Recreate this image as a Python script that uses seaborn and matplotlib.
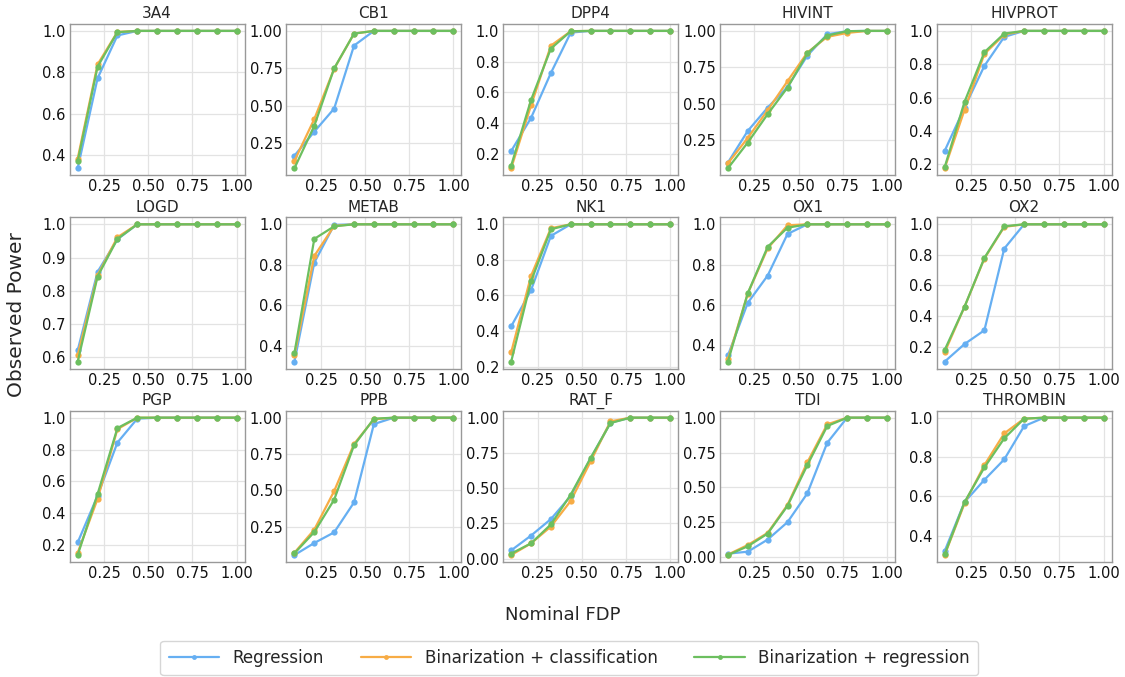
import numpy as np
import pandas as pd
import matplotlib
matplotlib.use("Agg")
import matplotlib.pyplot as plt
import seaborn as sns

# Nominal FDP levels shared by every target
fdp_levels = [0.1, 0.2125, 0.325, 0.4375, 0.55, 0.6625, 0.775, 0.8875, 1.0]

targets = ["3A4", "CB1", "DPP4", "HIVINT", "HIVPROT",
           "LOGD", "METAB", "NK1", "OX1", "OX2",
           "PGP", "PPB", "RAT_F", "TDI", "THROMBIN"]

methods = ["Regression", "Binarization + classification", "Binarization + regression"]

# Observed power per target: one list per method, one value per FDP level
power_regression = {
    "3A4":      [0.337, 0.771, 0.978, 1.0, 1.0, 1.0, 1.0, 1.0, 1.0],
    "CB1":      [0.168, 0.328, 0.482, 0.902, 1.0, 1.0, 1.0, 1.0, 1.0],
    "DPP4":     [0.217, 0.433, 0.726, 0.989, 1.0, 1.0, 1.0, 1.0, 1.0],
    "HIVINT":   [0.094, 0.312, 0.472, 0.615, 0.830, 0.977, 0.998, 1.0, 1.0],
    "HIVPROT":  [0.280, 0.540, 0.790, 0.964, 1.0, 1.0, 1.0, 1.0, 1.0],
    "LOGD":     [0.621, 0.857, 0.955, 1.0, 1.0, 1.0, 1.0, 1.0, 1.0],
    "METAB":    [0.323, 0.811, 0.997, 1.0, 1.0, 1.0, 1.0, 1.0, 1.0],
    "NK1":      [0.426, 0.630, 0.935, 1.0, 1.0, 1.0, 1.0, 1.0, 1.0],
    "OX1":      [0.349, 0.610, 0.745, 0.952, 1.0, 1.0, 1.0, 1.0, 1.0],
    "OX2":      [0.102, 0.217, 0.307, 0.841, 1.0, 1.0, 1.0, 1.0, 1.0],
    "PGP":      [0.217, 0.510, 0.844, 0.994, 1.0, 1.0, 1.0, 1.0, 1.0],
    "PPB":      [0.055, 0.138, 0.211, 0.417, 0.956, 1.0, 1.0, 1.0, 1.0],
    "RAT_F":    [0.059, 0.164, 0.281, 0.445, 0.710, 0.965, 1.0, 1.0, 1.0],
    "TDI":      [0.024, 0.038, 0.125, 0.250, 0.457, 0.820, 1.0, 1.0, 1.0],
    "THROMBIN": [0.322, 0.571, 0.684, 0.788, 0.957, 1.0, 1.0, 1.0, 1.0],
}

power_bin_classification = {
    "3A4":      [0.384, 0.838, 0.995, 1.0, 1.0, 1.0, 1.0, 1.0, 1.0],
    "CB1":      [0.133, 0.412, 0.748, 0.982, 1.0, 1.0, 1.0, 1.0, 1.0],
    "DPP4":     [0.105, 0.515, 0.904, 0.998, 1.0, 1.0, 1.0, 1.0, 1.0],
    "HIVINT":   [0.089, 0.264, 0.454, 0.654, 0.851, 0.959, 0.986, 1.0, 1.0],
    "HIVPROT":  [0.176, 0.526, 0.862, 0.978, 1.0, 1.0, 1.0, 1.0, 1.0],
    "LOGD":     [0.607, 0.847, 0.961, 1.0, 1.0, 1.0, 1.0, 1.0, 1.0],
    "METAB":    [0.354, 0.844, 0.992, 1.0, 1.0, 1.0, 1.0, 1.0, 1.0],
    "NK1":      [0.280, 0.710, 0.978, 1.0, 1.0, 1.0, 1.0, 1.0, 1.0],
    "OX1":      [0.331, 0.656, 0.880, 0.995, 1.0, 1.0, 1.0, 1.0, 1.0],
    "OX2":      [0.163, 0.460, 0.776, 0.983, 1.0, 1.0, 1.0, 1.0, 1.0],
    "PGP":      [0.152, 0.490, 0.928, 1.0, 1.0, 1.0, 1.0, 1.0, 1.0],
    "PPB":      [0.071, 0.230, 0.495, 0.819, 0.989, 1.0, 1.0, 1.0, 1.0],
    "RAT_F":    [0.026, 0.109, 0.228, 0.410, 0.690, 0.974, 1.0, 1.0, 1.0],
    "TDI":      [0.017, 0.086, 0.173, 0.374, 0.680, 0.952, 1.0, 1.0, 1.0],
    "THROMBIN": [0.302, 0.564, 0.759, 0.920, 0.995, 1.0, 1.0, 1.0, 1.0],
}

power_bin_regression = {
    "3A4":      [0.371, 0.827, 0.994, 1.0, 1.0, 1.0, 1.0, 1.0, 1.0],
    "CB1":      [0.084, 0.367, 0.750, 0.982, 1.0, 1.0, 1.0, 1.0, 1.0],
    "DPP4":     [0.122, 0.550, 0.885, 0.998, 1.0, 1.0, 1.0, 1.0, 1.0],
    "HIVINT":   [0.055, 0.232, 0.427, 0.610, 0.845, 0.968, 0.998, 1.0, 1.0],
    "HIVPROT":  [0.182, 0.574, 0.872, 0.984, 1.0, 1.0, 1.0, 1.0, 1.0],
    "LOGD":     [0.587, 0.843, 0.956, 1.0, 1.0, 1.0, 1.0, 1.0, 1.0],
    "METAB":    [0.366, 0.928, 0.990, 1.0, 1.0, 1.0, 1.0, 1.0, 1.0],
    "NK1":      [0.228, 0.680, 0.972, 1.0, 1.0, 1.0, 1.0, 1.0, 1.0],
    "OX1":      [0.318, 0.658, 0.888, 0.983, 1.0, 1.0, 1.0, 1.0, 1.0],
    "OX2":      [0.178, 0.461, 0.780, 0.987, 1.0, 1.0, 1.0, 1.0, 1.0],
    "PGP":      [0.138, 0.520, 0.935, 1.0, 1.0, 1.0, 1.0, 1.0, 1.0],
    "PPB":      [0.067, 0.213, 0.436, 0.810, 0.993, 1.0, 1.0, 1.0, 1.0],
    "RAT_F":    [0.036, 0.109, 0.243, 0.455, 0.715, 0.962, 1.0, 1.0, 1.0],
    "TDI":      [0.014, 0.077, 0.168, 0.367, 0.660, 0.940, 1.0, 1.0, 1.0],
    "THROMBIN": [0.305, 0.571, 0.747, 0.895, 0.995, 1.0, 1.0, 1.0, 1.0],
}

# Tick labels on each panel
x_ticks = [0.25, 0.5, 0.75, 1.0]
y_ticks = {
    "3A4":      [0.4, 0.6, 0.8, 1.0],
    "CB1":      [0.25, 0.5, 0.75, 1.0],
    "DPP4":     [0.2, 0.4, 0.6, 0.8, 1.0],
    "HIVINT":   [0.25, 0.5, 0.75, 1.0],
    "HIVPROT":  [0.2, 0.4, 0.6, 0.8, 1.0],
    "LOGD":     [0.6, 0.7, 0.8, 0.9, 1.0],
    "METAB":    [0.4, 0.6, 0.8, 1.0],
    "NK1":      [0.2, 0.4, 0.6, 0.8, 1.0],
    "OX1":      [0.4, 0.6, 0.8, 1.0],
    "OX2":      [0.2, 0.4, 0.6, 0.8, 1.0],
    "PGP":      [0.2, 0.4, 0.6, 0.8, 1.0],
    "PPB":      [0.25, 0.5, 0.75, 1.0],
    "RAT_F":    [0.0, 0.25, 0.5, 0.75, 1.0],
    "TDI":      [0.0, 0.25, 0.5, 0.75, 1.0],
    "THROMBIN": [0.4, 0.6, 0.8, 1.0],
}

method_colors = ["#66AFF2", "#F7AC45", "#6CBF5F"]

# Long-form table for seaborn
rows = []
for method, table in zip(methods, [power_regression, power_bin_classification, power_bin_regression]):
    for target in targets:
        for fdp, pw in zip(fdp_levels, table[target]):
            rows.append({"target": target, "method": method, "fdp": fdp, "power": pw})
df = pd.DataFrame(rows)

sns.set_theme(style="whitegrid")
plt.rcParams["font.family"] = ["DejaVu Sans"]
plt.rcParams.update({
    "axes.edgecolor": "#999999",
    "axes.linewidth": 1.0,
    "grid.color": "#e3e3e3",
    "grid.linewidth": 0.9,
    "xtick.labelsize": 10.5,
    "ytick.labelsize": 10.5,
    "xtick.color": "#111111",
    "ytick.color": "#111111",
})

fig, axes = plt.subplots(3, 5, figsize=(11.25, 6.77), dpi=100)
fig.subplots_adjust(left=0.062, right=0.988, top=0.9645, bottom=0.17,
                    wspace=0.24, hspace=0.28)

palette = dict(zip(methods, method_colors))
for ax, target in zip(axes.flat, targets):
    sub = df[df["target"] == target]
    sns.lineplot(data=sub, x="fdp", y="power", hue="method", hue_order=methods,
                 palette=palette, marker="o", markersize=4.5, markeredgewidth=0,
                 linewidth=1.6, ax=ax, legend=False)
    ax.set_title(target, fontsize=11, pad=4)
    ax.set_xlabel("")
    ax.set_ylabel("")
    ax.set_xticks(x_ticks)
    ax.set_yticks(y_ticks[target])
    ax.tick_params(length=0, pad=3)
    for s in ax.spines.values():
        s.set_visible(True)
        s.set_color("#999999")

fig.text(0.5, 0.092, "Nominal FDP", ha="center", va="center", fontsize=13)
fig.text(0.015, 0.535, "Observed Power", ha="center", va="center",
         rotation=90, fontsize=14.5)

handles = [plt.Line2D([], [], color=c, marker="o", markersize=3.5, markeredgewidth=0,
                      linewidth=1.6) for c in method_colors]
fig.legend(handles, methods, loc="lower center", bbox_to_anchor=(0.506, 0.0),
           ncol=3, fontsize=12.1, frameon=True, handlelength=3.0,
           columnspacing=2.2, borderpad=0.5, borderaxespad=0.1,
           edgecolor="#cccccc", fancybox=True)

fig.savefig("out.png", dpi=100)
